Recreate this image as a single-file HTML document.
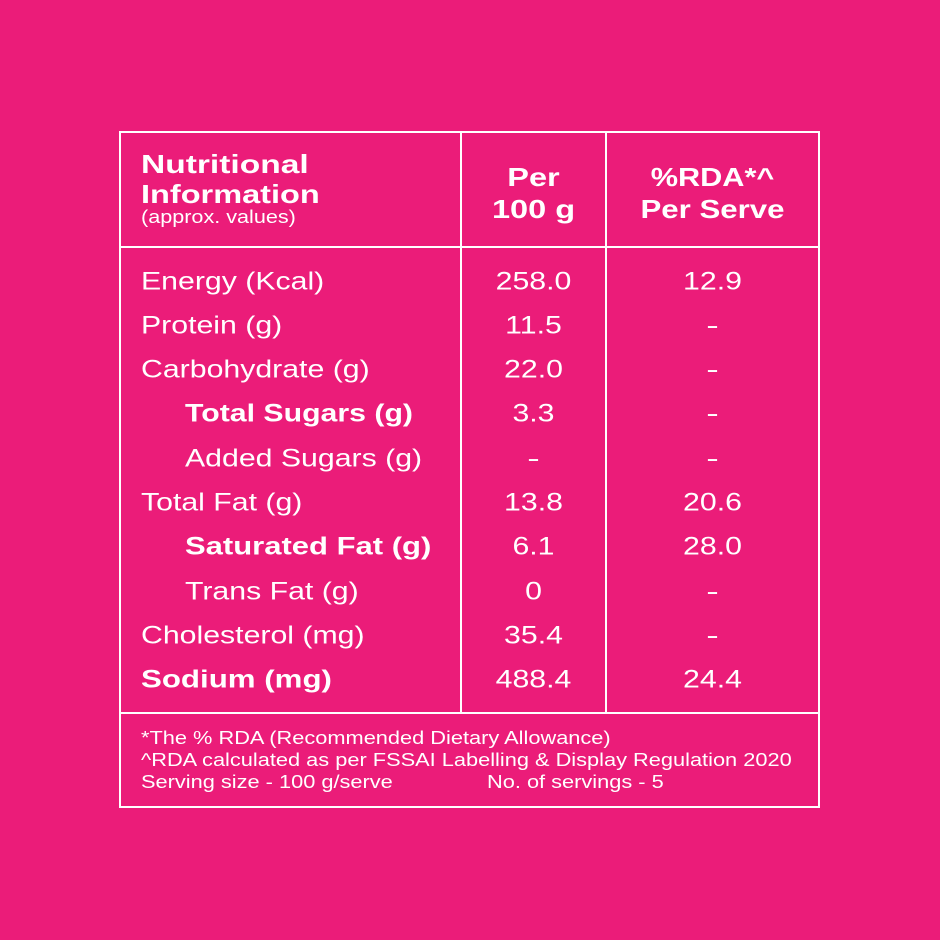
<!DOCTYPE html>
<html><head><style>
body{margin:0;width:940px;height:940px;background:#EB1C79;position:relative;font-family:"Liberation Sans",sans-serif;color:#fff;overflow:hidden}
.l{position:absolute;background:#fff}
.t{position:absolute;white-space:nowrap;line-height:1;transform-origin:left center}
.r{font-size:25px;transform:translateY(-50%) scaleX(1.21)}
.c2,.c3{transform-origin:center center}
.c2{left:461px;width:145px;text-align:center}
.c3{left:606px;width:213px;text-align:center}
.h{transform:scaleX(1.25)}
.b{font-weight:bold}
.f{font-size:18px;left:141px;transform:scaleX(1.21)}
.d{transform:translateY(-50%) scaleX(1.5)}
</style></head><body>
<div class="l" style="left:119px;top:131px;width:701px;height:2px"></div>
<div class="l" style="left:119px;top:806px;width:701px;height:2px"></div>
<div class="l" style="left:119px;top:131px;width:2px;height:677px"></div>
<div class="l" style="left:818px;top:131px;width:2px;height:677px"></div>
<div class="l" style="left:119px;top:246px;width:701px;height:2px"></div>
<div class="l" style="left:119px;top:712px;width:701px;height:2px"></div>
<div class="l" style="left:460px;top:131px;width:2px;height:582px"></div>
<div class="l" style="left:605px;top:131px;width:2px;height:582px"></div>

<div class="t b h" style="left:141px;top:151px;font-size:26px;transform:scaleX(1.29)">Nutritional</div>
<div class="t b h" style="left:141px;top:181px;font-size:26px">Information</div>
<div class="t h" style="left:141px;top:208px;font-size:18px;transform:scaleX(1.2)">(approx. values)</div>
<div class="t b c2 h" style="top:164px;font-size:26px">Per</div>
<div class="t b c2 h" style="top:196px;font-size:26px">100 g</div>
<div class="t b c3 h" style="top:164px;font-size:26px;transform:scaleX(1.18)">%RDA*^</div>
<div class="t b c3 h" style="top:196px;font-size:26px;transform:scaleX(1.2)">Per Serve</div>

<div class="t r" style="left:141px;top:282px">Energy (Kcal)</div><div class="t r c2" style="top:282px">258.0</div><div class="t r c3" style="top:282px">12.9</div>
<div class="t r" style="left:141px;top:326px">Protein (g)</div><div class="t r c2" style="top:326px">11.5</div><div class="t r c3 d" style="top:326px">-</div>
<div class="t r" style="left:141px;top:370px">Carbohydrate (g)</div><div class="t r c2" style="top:370px">22.0</div><div class="t r c3 d" style="top:370px">-</div>
<div class="t r b" style="left:185px;top:414px;transform:translateY(-50%) scaleX(1.21)">Total Sugars (g)</div><div class="t r c2" style="top:414px">3.3</div><div class="t r c3 d" style="top:414px">-</div>
<div class="t r" style="left:185px;top:459px">Added Sugars (g)</div><div class="t r c2 d" style="top:459px">-</div><div class="t r c3 d" style="top:459px">-</div>
<div class="t r" style="left:141px;top:503px">Total Fat (g)</div><div class="t r c2" style="top:503px">13.8</div><div class="t r c3" style="top:503px">20.6</div>
<div class="t r b" style="left:185px;top:547px;transform:translateY(-50%) scaleX(1.24)">Saturated Fat (g)</div><div class="t r c2" style="top:547px">6.1</div><div class="t r c3" style="top:547px">28.0</div>
<div class="t r" style="left:185px;top:592px">Trans Fat (g)</div><div class="t r c2" style="top:592px">0</div><div class="t r c3 d" style="top:592px">-</div>
<div class="t r" style="left:141px;top:636px">Cholesterol (mg)</div><div class="t r c2" style="top:636px">35.4</div><div class="t r c3 d" style="top:636px">-</div>
<div class="t r b" style="left:141px;top:680px;transform:translateY(-50%) scaleX(1.25)">Sodium (mg)</div><div class="t r c2" style="top:680px">488.4</div><div class="t r c3" style="top:680px">24.4</div>

<div class="t f" style="top:729px">*The % RDA (Recommended Dietary Allowance)</div>
<div class="t f" style="top:751px">^RDA calculated as per FSSAI Labelling &amp; Display Regulation 2020</div>
<div class="t f" style="top:773px">Serving size - 100 g/serve</div>
<div class="t f" style="left:487px;top:773px">No. of servings - 5</div>
</body></html>
